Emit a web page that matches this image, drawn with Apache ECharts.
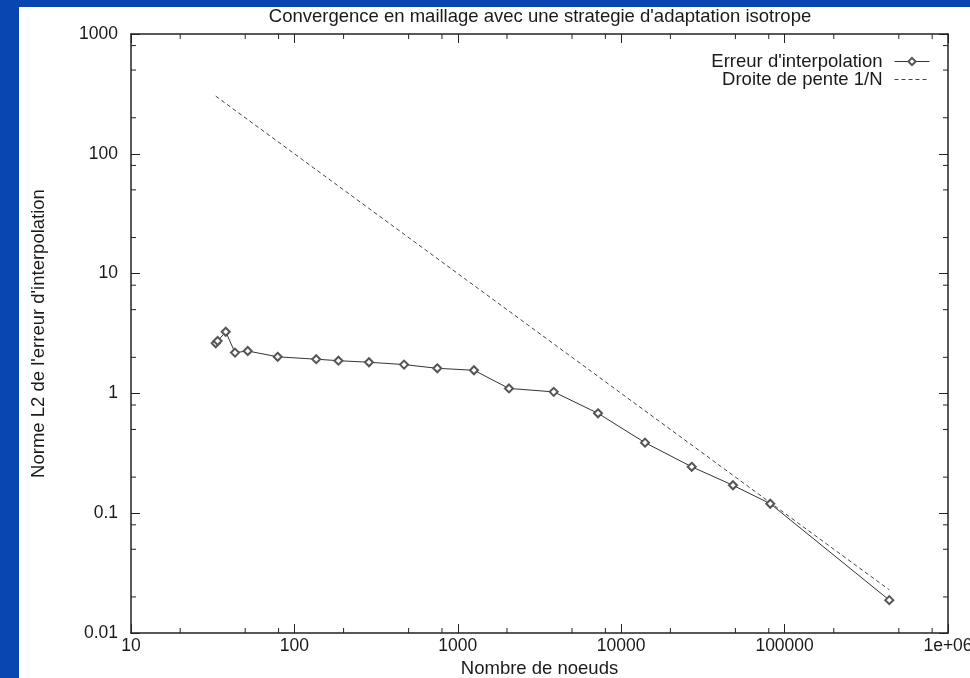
<!DOCTYPE html>
<html><head><meta charset="utf-8">
<script src="https://cdn.jsdelivr.net/npm/echarts@6/dist/echarts.min.js"></script>
<style>html,body{margin:0;padding:0;background:#0a46b2}#c{width:970px;height:678px}</style>
</head><body><div id="c"></div>
<script>
const titleText = "Convergence en maillage avec une strategie d'adaptation isotrope";
const xName = "Nombre de noeuds";
const yName = "Norme L2 de l'erreur d'interpolation";
const seriesNames = ["Erreur d'interpolation", "Droite de pente 1/N"];
const nodes = [33.0, 33.9, 38.0, 43.3, 51.8, 79.0, 136, 186, 286, 469, 749, 1256, 2057, 3864, 7211, 13990, 27010, 48320, 81730, 437300];
const errors = [2.62, 2.74, 3.27, 2.19, 2.26, 2.02, 1.93, 1.875, 1.82, 1.74, 1.62, 1.56, 1.10, 1.03, 0.682, 0.388, 0.244, 0.171, 0.120, 0.0188];
const slopeX = [33, 437300];
const slopeY = [303, 0.0229];
const xTickValues = [10, 100, 1000, 10000, 100000, 1000000];
const xTickLabels = ['10', '100', '1000', '10000', '100000', '1e+06'];
const yTickValues = [0.01, 0.1, 1, 10, 100, 1000];
const yTickLabels = ['0.01', '0.1', '1', '10', '100', '1000'];
const xMinorTicks = [20,50,80,200,500,800,2000,5000,8000,20000,50000,80000,200000,500000,800000];
const yMinorTicks = [0.02,0.05,0.08,0.2,0.5,0.8,2,5,8,20,50,80,200,500,800];

const FONT = 'Liberation Sans';
const TXT = '#1a1a1a';
const BIG = 18.5;
const TICK = 17.5;
function lookup(vals, labels) {
  return function (v) {
    for (let i = 0; i < vals.length; i++) {
      if (Math.abs(Math.log10(v) - Math.log10(vals[i])) < 1e-6) return labels[i];
    }
    return '';
  };
}
const chart = echarts.init(document.getElementById('c'), null, {renderer: 'canvas'});
const axisLine = {show: true, lineStyle: {color: '#222', width: 1.5}};
const baseX = {type: 'log', logBase: 10, min: 10, max: 1000000, splitLine: {show: false},
  axisLine: axisLine, axisTick: {show: true, inside: true, length: 9, lineStyle: {color: '#222', width: 1}}};
const baseY = {type: 'log', logBase: 10, min: 0.01, max: 1000, splitLine: {show: false},
  axisLine: axisLine, axisTick: {show: true, inside: true, length: 9, lineStyle: {color: '#222', width: 1}}};

function minorRender(isX) {
  return function (params, api) {
    const cs = params.coordSys;
    const L = 5;
    const st = {stroke: '#222', lineWidth: 1};
    if (isX) {
      const x = api.coord([api.value(0), 1])[0];
      return {type: 'group', children: [
        {type: 'line', shape: {x1: x, y1: cs.y + cs.height, x2: x, y2: cs.y + cs.height - L}, style: st},
        {type: 'line', shape: {x1: x, y1: cs.y, x2: x, y2: cs.y + L}, style: st}
      ]};
    } else {
      const y = api.coord([10, api.value(1)])[1];
      return {type: 'group', children: [
        {type: 'line', shape: {x1: cs.x, y1: y, x2: cs.x + L, y2: y}, style: st},
        {type: 'line', shape: {x1: cs.x + cs.width, y1: y, x2: cs.x + cs.width - L, y2: y}, style: st}
      ]};
    }
  };
}

const legendBase = {orient: 'vertical', align: 'right', itemWidth: 35, itemHeight: 9, padding: 0, right: 40,
  lineStyle: {width: 1},
  textStyle: {fontFamily: FONT, fontSize: BIG, color: TXT, padding: [0, 7, 0, 0]}};

const option = {
  backgroundColor: '#0a46b2',
  animation: false,
  textStyle: {fontFamily: FONT},
  graphic: [
    {type: 'rect', z: -10, silent: true, shape: {x: 19, y: 7, width: 951, height: 671}, style: {fill: '#ffffff'}},
    {type: 'text', z: 10, x: 540, y: 17, style: {text: titleText, fontFamily: FONT, fontSize: BIG, fill: TXT, textAlign: 'center', textVerticalAlign: 'middle'}}
  ],
  grid: {left: 131, right: 22, top: 34, bottom: 45, containLabel: false, outerBoundsMode: 'none'},
  legend: [
    Object.assign({}, legendBase, {data: [seriesNames[0]], top: 52}),
    Object.assign({}, legendBase, {data: [{name: seriesNames[1], itemStyle: {opacity: 0}}], top: 70})
  ],
  xAxis: [
    Object.assign({}, baseX, {position: 'bottom', name: xName, nameLocation: 'middle', nameGap: 26,
      nameTextStyle: {fontFamily: FONT, fontSize: BIG, color: TXT},
      axisLabel: {show: true, margin: 4, fontFamily: FONT, fontSize: TICK, color: TXT, formatter: lookup(xTickValues, xTickLabels), showMinLabel: true, showMaxLabel: true, hideOverlap: false}}),
    Object.assign({}, baseX, {position: 'top', axisLabel: {show: false}})
  ],
  yAxis: [
    Object.assign({}, baseY, {position: 'left', name: yName, nameLocation: 'middle', nameGap: 83,
      nameTextStyle: {fontFamily: FONT, fontSize: BIG, color: TXT},
      axisLabel: {show: true, margin: 13, fontFamily: FONT, fontSize: TICK, color: TXT, formatter: lookup(yTickValues, yTickLabels), showMinLabel: true, showMaxLabel: true}}),
    Object.assign({}, baseY, {position: 'right', axisLabel: {show: false}})
  ],
  series: [
    {name: seriesNames[0], type: 'line', xAxisIndex: 0, yAxisIndex: 0, z: 5,
      data: nodes.map((n, i) => [n, errors[i]]),
      symbol: 'emptyDiamond', symbolSize: 8, showAllSymbol: true,
      lineStyle: {color: '#333', width: 1}, itemStyle: {color: '#555', borderColor: '#555', borderWidth: 1}},
    {name: seriesNames[1], type: 'line', xAxisIndex: 0, yAxisIndex: 0, z: 4,
      data: slopeX.map((n, i) => [n, slopeY[i]]),
      symbol: 'none', showSymbol: false,
      lineStyle: {color: '#444', width: 1, type: [4, 3]}, itemStyle: {color: '#444'}},
    {name: 'xminor', type: 'custom', xAxisIndex: 0, yAxisIndex: 0, silent: true, clip: false, z: 3,
      data: xMinorTicks.map(v => [v, 1]), renderItem: minorRender(true)},
    {name: 'yminor', type: 'custom', xAxisIndex: 0, yAxisIndex: 0, silent: true, clip: false, z: 3,
      data: yMinorTicks.map(v => [10, v]), renderItem: minorRender(false)}
  ]
};
chart.setOption(option);
</script></body></html>
